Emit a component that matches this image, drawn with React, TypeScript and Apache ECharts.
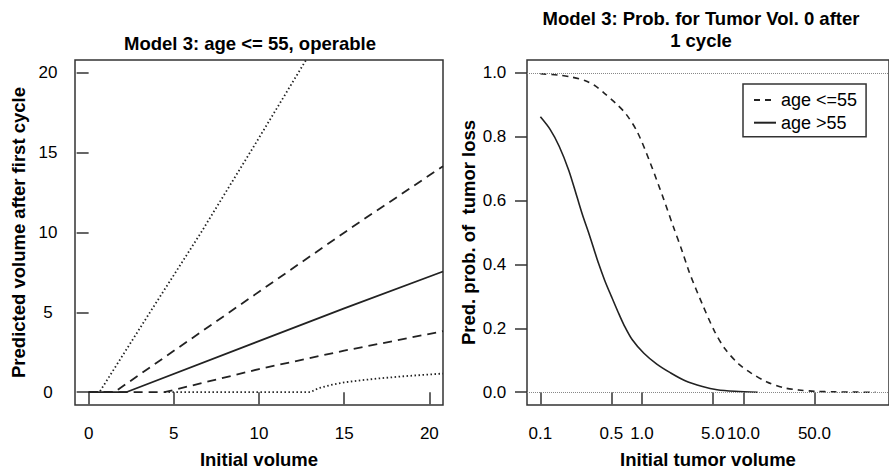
import React, { useEffect, useRef } from 'react';
import * as echarts from 'echarts';

const FONT = '"Liberation Sans", Arial, Helvetica, sans-serif';

// ---- Left panel data ----
const leftXTicks = [0, 5, 10, 15, 20];
const leftYTicks = [0, 5, 10, 15, 20];
const upperDotted = [[0, 0], [0.63, 0], [3.6, 5], [6.6, 10], [9.7, 15.4], [12.76, 20.8], [13.5, 22.1]];
const upperDashed = [[0, 0], [1.5, 0], [15.5, 10.36], [20.8, 14.15]];
const median = [[0, 0], [2.2, 0], [15, 5.25], [20.8, 7.56]];
const lowerDashed = [[0, 0], [4.45, 0], [10, 1.45], [15, 2.6], [20.8, 3.82]];
const lowerDotted = [[4.45, 0], [13, 0], [13.5, 0.25], [14.2, 0.45], [15, 0.62], [16, 0.75], [17, 0.86], [18.5, 1.0], [20.8, 1.17]];

// ---- Right panel data ----
const rightXTicks = [0.1, 0.5, 1, 5, 10, 50];
const rightXTickLabels = ['0.1', '0.5', '1.0', '5.0', '10.0', '50.0'];
const rightYTicks = [0, 0.2, 0.4, 0.6, 0.8, 1.0];
const refLines = [0, 1];
const youngVol = [0.1, 0.15, 0.2, 0.277, 0.35, 0.43, 0.55, 0.7, 0.9, 1.2, 1.63, 2.06, 2.5, 2.93, 3.94, 5.2, 6.6, 9, 11.9, 17, 25, 35, 50, 80, 120, 200];
const youngProb = [0.997, 0.993, 0.987, 0.975, 0.958, 0.935, 0.905, 0.87, 0.815, 0.72, 0.606, 0.514, 0.44, 0.375, 0.275, 0.19, 0.135, 0.088, 0.06, 0.032, 0.014, 0.007, 0.003, 0.001, 0.0003, 0];
const oldVol = [0.1, 0.125, 0.153, 0.19, 0.23, 0.26, 0.298, 0.335, 0.372, 0.43, 0.5, 0.58, 0.671, 0.8, 1.045, 1.4, 1.88, 2.7, 3.94, 5.5, 8.24, 13.8];
const oldProb = [0.862, 0.822, 0.77, 0.695, 0.61, 0.555, 0.5, 0.45, 0.405, 0.35, 0.3, 0.252, 0.208, 0.165, 0.122, 0.088, 0.062, 0.035, 0.018, 0.008, 0.003, 0];

const LINE = '#222';
const BOX = '#333';

function zip(xs: number[], ys: number[]) {
  return xs.map((x, i) => [x, ys[i]]);
}

export default function App() {
  const ref = useRef<HTMLDivElement>(null);
  useEffect(() => {
    if (!ref.current) return;
    const chart = echarts.init(ref.current, undefined, { renderer: 'svg' });
    const tickStyle = { show: true, inside: false, length: 12, lineStyle: { color: BOX, width: 1.5 } };
    const labelStyle = { color: '#000', fontSize: 17, fontFamily: FONT };
    const nameStyle = { color: '#000', fontSize: 18.5, fontWeight: 'bold' as const, fontFamily: FONT };
    const leftLine = (data: number[][], type: any, width = 1.8) => ({
      type: 'line', xAxisIndex: 0, yAxisIndex: 0, data, symbol: 'none', silent: true,
      lineStyle: { color: LINE, width, type }, itemStyle: { color: LINE },
    });
    chart.setOption({
      animation: false,
      backgroundColor: '#fff',
      title: [
        {
          text: 'Model 3: age <= 55, operable', left: 250, top: 32, textAlign: 'center', padding: 0,
          textStyle: { ...nameStyle, lineHeight: 22 },
        },
        {
          text: 'Model 3: Prob. for Tumor Vol. 0 after\n1 cycle', left: 701, top: 7, textAlign: 'center', padding: 0,
          textStyle: { ...nameStyle, lineHeight: 22 },
        },
      ],
      legend: {
        data: ['age <=55', 'age >55'],
        orient: 'vertical', left: 743, top: 84,
        itemWidth: 22, itemHeight: 12, itemGap: 4.7,
        padding: [7, 9, 5, 10],
        borderColor: BOX, borderWidth: 1.5, backgroundColor: '#fff',
        itemStyle: { opacity: 0 },
        textStyle: { color: '#000', fontSize: 18, lineHeight: 18, fontFamily: FONT },
        selectedMode: false,
      },
      grid: [
        { left: 75, top: 60, width: 368, height: 352, show: true, borderColor: BOX, borderWidth: 1.5, backgroundColor: 'transparent', containLabel: false },
        { left: 527, top: 60, width: 371, height: 352, show: true, borderColor: BOX, borderWidth: 1.5, backgroundColor: 'transparent', containLabel: false },
      ],
      xAxis: [
        {
          type: 'value', gridIndex: 0, min: -0.8, max: 20.8,
          name: 'Initial volume', nameLocation: 'middle', nameGap: 45, nameTextStyle: nameStyle,
          axisLine: { show: false }, splitLine: { show: false },
          axisTick: { ...tickStyle, customValues: leftXTicks },
          axisLabel: { ...labelStyle, margin: 20, customValues: leftXTicks },
        },
        {
          type: 'log', logBase: 10, gridIndex: 1, min: Math.pow(10, -1.132), max: Math.pow(10, 2.433),
          name: 'Initial tumor volume', nameLocation: 'middle', nameGap: 45, nameTextStyle: nameStyle,
          axisLine: { show: false }, splitLine: { show: false }, minorTick: { show: false },
          axisTick: { ...tickStyle, customValues: rightXTicks },
          axisLabel: {
            ...labelStyle, margin: 20, customValues: rightXTicks,
            formatter: (v: number) => {
              const i = rightXTicks.findIndex((t) => Math.abs(Math.log10(t) - Math.log10(v)) < 1e-6);
              return i >= 0 ? rightXTickLabels[i] : '';
            },
          },
        },
      ],
      yAxis: [
        {
          type: 'value', gridIndex: 0, min: -0.8, max: 20.8,
          name: 'Predicted volume after first cycle', nameLocation: 'middle', nameGap: 47, nameTextStyle: nameStyle,
          axisLine: { show: false }, splitLine: { show: false },
          axisTick: { ...tickStyle, customValues: leftYTicks },
          axisLabel: { ...labelStyle, margin: 27, align: 'center', customValues: leftYTicks },
        },
        {
          type: 'value', gridIndex: 1, min: -0.04, max: 1.04,
          name: 'Pred. prob. of  tumor loss', nameLocation: 'middle', nameGap: 49, nameTextStyle: nameStyle,
          axisLine: { show: false }, splitLine: { show: false },
          axisTick: { ...tickStyle, customValues: rightYTicks },
          axisLabel: { ...labelStyle, margin: 32.5, align: 'center', customValues: rightYTicks, formatter: (v: number) => v.toFixed(1) },
        },
      ],
      series: [
        leftLine(upperDotted, [1.5, 2.5]),
        leftLine(upperDashed, [9, 6]),
        leftLine(median, 'solid'),
        leftLine(lowerDashed, [9, 6]),
        leftLine(lowerDotted, [1.5, 2.5]),
        {
          type: 'line', name: 'refs', xAxisIndex: 1, yAxisIndex: 1, data: [], symbol: 'none', silent: true,
          markLine: {
            silent: true, symbol: 'none', label: { show: false },
            lineStyle: { color: '#888', width: 1, type: [1, 1] },
            data: refLines.map((y) => ({ yAxis: y })),
          },
        },
        {
          type: 'line', name: 'age <=55', xAxisIndex: 1, yAxisIndex: 1, data: zip(youngVol, youngProb),
          symbol: 'none', smooth: 0.3, silent: true,
          lineStyle: { color: LINE, width: 1.6, type: [6, 5] }, itemStyle: { color: LINE },
        },
        {
          type: 'line', name: 'age >55', xAxisIndex: 1, yAxisIndex: 1, data: zip(oldVol, oldProb),
          symbol: 'none', smooth: 0.3, silent: true,
          lineStyle: { color: LINE, width: 1.6, type: 'solid' }, itemStyle: { color: LINE },
        },
      ],
    });
    return () => chart.dispose();
  }, []);
  return <div ref={ref} style={{ position: 'fixed', left: 0, top: 0, width: 889, height: 474 }} />;
}
